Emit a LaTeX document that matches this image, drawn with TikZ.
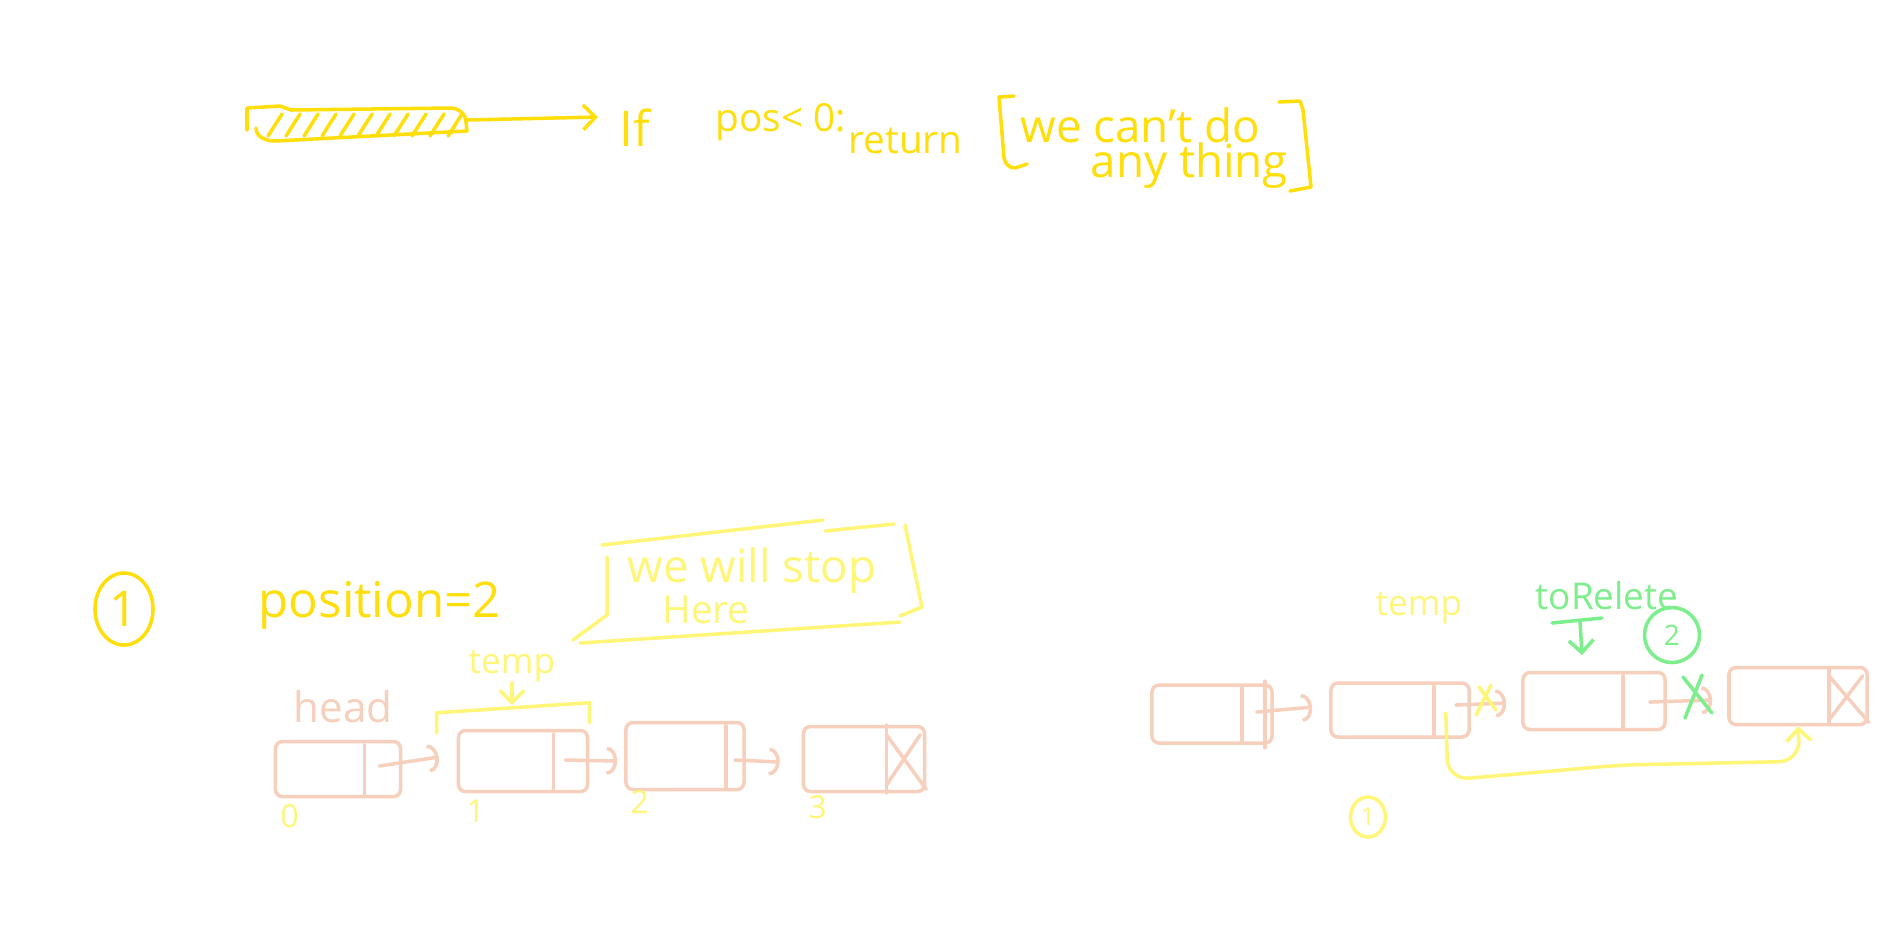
\documentclass[tikz,border=0pt]{standalone}
\usepackage{fontspec}
\setmainfont{Open Sans}
\usetikzlibrary{arrows.meta,calc,shapes.geometric}
\definecolor{hy}{RGB}{255,222,10}
\definecolor{ly}{RGB}{255,246,120}
\definecolor{pch}{RGB}{246,208,188}
\definecolor{grn}{RGB}{125,238,140}
\newcommand{\fs}[1]{\fontsize{#1}{#1}\selectfont}
\begin{document}
\begin{tikzpicture}[x=0.01cm,y=-0.01cm,
  pen/.style={line width=1pt,line cap=round,line join=round},
  hand/.style={inner sep=0pt,anchor=base west},
  listnode/.style={draw=pch,pen,inner sep=0pt,rounded corners=2pt},
  link/.style={pch,pen,-{Arc Barb[length=3pt,width=8pt]}},
  barb/.style={-{Straight Barb[length=3.5pt,width=7pt]}},
]
\fill[white] (0,0) rectangle (1901,932);
\useasboundingbox (0,0) rectangle (1901,932);

% ---------- top: hatched bar and condition ----------
\draw[hy,pen] (247,130) -- (247,108) -- (280,106) -- (291,110) -- (450,108)
  to[out=0,in=90] (466,122) -- (467,131) -- (275,141) to[out=180,in=-90] (256,128);
\foreach \x in {268,286,...,450} \draw[hy,pen] (\x,136) -- ++(14,-22);
\coordinate (barend) at (467,120);
\coordinate (arrowend) at (598,117);
\draw[hy,pen,barb] (barend) -- (arrowend);
\node[hand,text=hy,font=\fs{14}] (iftxt) at (619,146) {If};
\node[hand,text=hy,font=\fs{11}] (postxt) at (715,131) {pos< 0:};
\node[hand,text=hy,font=\fs{11}] (rettxt) at (848,153) {return};
\draw[hy,pen] (1014,96) -- (999,97) -- (1004,158) to[out=-80,in=180] (1015,168) -- (1027,164);
\node[hand,text=hy,font=\fs{13}] (cant) at (1020,142) {we can't do};
\node[hand,text=hy,font=\fs{13}] (anyth) at (1090,177) {any thing};
\draw[hy,pen] (1279,102) -- (1300,101) -- (1303,110) -- (1311,187) -- (1290,191);

% ---------- section 1 (left) ----------
\node[draw=hy,pen,ellipse,minimum width=0.58cm,minimum height=0.72cm,inner sep=0pt,
  text=hy,font=\fs{14}] (c1) at (124,609) {1};
\node[hand,text=hy,font=\fs{14}] (postext) at (258,617) {position=2};

% speech bubble "we will stop Here"
\draw[ly,pen] (602,545) -- (823,520);
\draw[ly,pen] (825,531) -- (894,524);
\draw[ly,pen] (905,525) -- (922,607) -- (900,616);
\draw[ly,pen] (900,622) -- (580,643);
\draw[ly,pen] (607,557) -- (607,615) -- (573,640);
\node[hand,text=ly,font=\fs{13}] (stop) at (627,582) {we will stop};
\node[hand,text=ly,font=\fs{11}] (here) at (662,623) {Here};

% list nodes
\node[listnode,minimum width=1.25cm,minimum height=0.55cm] (n0) at (338,769) {};
\node[listnode,minimum width=1.29cm,minimum height=0.61cm] (n1) at (523,761) {};
\node[listnode,minimum width=1.18cm,minimum height=0.67cm] (n2) at (685,756) {};
\node[listnode,minimum width=1.21cm,minimum height=0.65cm] (n3) at (864,759) {};
\draw[pch,pen] ($(n0.north east)+(-38,5)$) -- ($(n0.south east)+(-38,-4)$);
\draw[pch,pen] ($(n1.north east)+(-36,5)$) -- ($(n1.south east)+(-36,-4)$);
\draw[pch,pen] ($(n2.north east)+(-20,5)$) -- ($(n2.south east)+(-20,-4)$);
\draw[pch,pen] ($(n3.north east)+(-40,0)$) -- ($(n3.south east)+(-40,0)$);
\draw[pch,pen] ($(n3.north east)+(-40,10)$) -- ($(n3.south east)+(0,-4)$);
\draw[pch,pen] ($(n3.north east)+(-6,10)$) -- ($(n3.south east)+(-40,-8)$);
\draw[link] ($(n0.east)+(-23,-3)$) -- ($(n1.west)+(-18,-4)$);
\draw[link] ($(n1.east)+(-24,-1)$) -- ($(n2.west)+(-7,5)$);
\draw[link] ($(n2.east)+(-11,4)$) -- ($(n3.west)+(-22,3)$);

\node[hand,text=pch,font=\fs{12}] (head) at (293,722) {head};
\node[hand,text=ly,font=\fs{10}] (temp1) at (468,673) {temp};
\draw[ly,pen,barb] (512,683) -- (512,705);
\draw[ly,pen] ($(n1.north west)+(-20,4)$) -- ($(n1.north west)+(-20,-16)$)
  -- ($(n1.north east)+(0,-26)$) -- ($(n1.north east)+(0,-6)$);

\node[hand,text=ly,font=\fs{9}] (l0) at (280,827) {0};
\node[hand,text=ly,font=\fs{9}] (l1) at (466,822) {1};
\node[hand,text=ly,font=\fs{9}] (l2) at (630,813) {2};
\node[hand,text=ly,font=\fs{9}] (l3) at (808,818) {3};

% ---------- section 2 (right) ----------
\node[listnode,minimum width=1.20cm,minimum height=0.58cm] (A) at (1212,714) {};
\node[listnode,minimum width=1.38cm,minimum height=0.54cm] (B) at (1400,710) {};
\node[listnode,minimum width=1.42cm,minimum height=0.57cm] (C) at (1594,701) {};
\node[listnode,minimum width=1.38cm,minimum height=0.57cm] (D) at (1798,696) {};
\draw[pch,pen] ($(A.north east)+(-32,5)$) -- ($(A.south east)+(-32,-4)$);
\draw[pch,pen] ($(A.north east)+(-9,-2)$) -- ($(A.south east)+(-9,3)$);
\draw[pch,pen] ($(B.north east)+(-37,5)$) -- ($(B.south east)+(-37,-4)$);
\draw[pch,pen] ($(C.north east)+(-44,5)$) -- ($(C.south east)+(-44,-4)$);
\draw[pch,pen] ($(D.north east)+(-40,3)$) -- ($(D.south east)+(-40,-4)$);
\draw[pch,pen] ($(D.north east)+(-40,10)$) -- ($(D.south east)+(0,-4)$);
\draw[pch,pen] ($(D.north east)+(-6,10)$) -- ($(D.south east)+(-40,-6)$);
\draw[link] ($(A.east)+(-17,-2)$) -- ($(B.west)+(-17,-3)$);
\draw[link] ($(B.east)+(-15,-5)$) -- ($(C.west)+(-15,2)$);
\draw[link] ($(C.east)+(-17,1)$) -- ($(D.west)+(-15,4)$);
% crosses on the links
\draw[ly,pen] (1479,687) -- (1496,710);
\draw[ly,pen] (1491,685) -- (1476,715);
\draw[grn,pen] (1683,677) -- (1712,713);
\draw[grn,pen] (1702,675) -- (1685,718);
% bypass arrow
\draw[ly,pen,rounded corners=6pt,barb] ($(B.east)+(-25,3)$) -- ($(B.east)+(-23,70)$)
  -- (1621,765) -- ($(D.south)+(2,35)$) -- (D.south);
\node[draw=ly,pen,ellipse,minimum width=0.35cm,minimum height=0.40cm,inner sep=0pt,
  text=ly,font=\fs{7}] (c1b) at (1368,817) {1};

\node[hand,text=ly,font=\fs{10}] (temp2) at (1375,615) {temp};
\node[hand,text=grn,font=\fs{10.5}] (todel) at (1535,609) {toRelete};
\draw[grn,pen] (1552,623) -- (1602,618);
\draw[grn,pen,barb] (1580,621) -- (1582,655);
\node[draw=grn,pen,circle,minimum size=0.55cm,inner sep=0pt,text=grn,font=\fs{8}] (c2) at (1672,635) {2};
\end{tikzpicture}
\end{document}
